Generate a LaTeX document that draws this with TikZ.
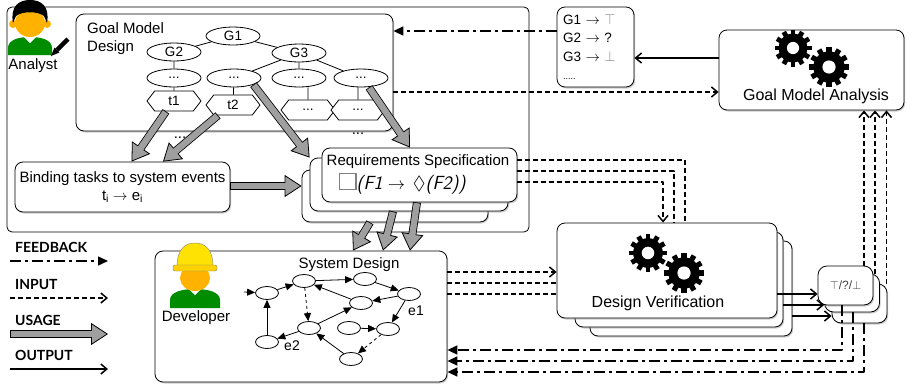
\documentclass[tikz,border=0pt]{standalone}
\usepackage{fontspec}
\usepackage{amssymb}
\setmainfont{Liberation Sans}
\newfontfamily\legendfont{Lato}
\usetikzlibrary{arrows.meta,shapes.geometric,shapes.symbols,shadows}

\newcommand{\gearwheel}[3]{%
  \begin{scope}[shift={(#1,#2)}]
    \fill (0,0) circle[radius=0.78*#3];
    \foreach \a in {0,30,...,330}
      \fill[rotate=\a] (-0.13*#3,0) rectangle (0.13*#3,#3);
    \fill[white] (0,0) circle[radius=0.33*#3];
  \end{scope}}

\begin{document}
\begin{tikzpicture}[x=1pt, y=-1pt, line join=round,
  box/.style={draw, fill=white, line width=0.8pt, rounded corners=8pt, inner sep=0pt},
  sbox/.style={box, drop shadow={shadow xshift=1.2pt, shadow yshift=-1.5pt, opacity=0.4}},
  txt/.style={font=\fontsize{15}{18}\selectfont},
  goal/.style={draw, fill=white, ellipse, line width=0.8pt, minimum width=54pt,
    minimum height=18pt, inner sep=0pt, font=\fontsize{13.5}{14}\selectfont},
  task/.style={draw, fill=white, signal, signal to=east and west, signal pointer angle=105,
    line width=0.8pt, minimum width=54pt, minimum height=20pt, inner sep=0pt,
    font=\fontsize{13.5}{14}\selectfont},
  ev/.style={draw, ellipse, line width=0.8pt, minimum width=23pt, minimum height=13pt, inner sep=0pt},
  link/.style={line width=0.8pt, -{Triangle[length=8pt,width=7pt]}},
  feedback/.style={line width=1.5pt, dash pattern=on 11pt off 4pt on 3pt off 4pt,
    -{Triangle[length=10pt,width=9pt]}},
  input/.style={line width=1.5pt, dash pattern=on 5pt off 3pt, -{Straight Barb[length=6pt,width=10pt]}},
  output/.style={line width=1.5pt, -{Straight Barb[length=6pt,width=10pt]}},
  usage/.style={line width=8pt, -{Triangle[length=17pt,width=22pt,fill=gray!75,line width=0.8pt]},
    postaction={draw=gray!75, line width=6.4pt, -, shorten >=15.5pt, shorten <=0.8pt}},
  legend/.style={font=\legendfont\bfseries\fontsize{14}{14}\selectfont, anchor=west, inner sep=0pt}]
\useasboundingbox (0,0) rectangle (913,386);

% analyst side
\node[box, rounded corners=5pt, minimum width=522pt, minimum height=225pt] (ana) at (268,119.5) {};
\node[sbox, minimum width=317pt, minimum height=117pt] (gmd) at (234.5,72.5) {};
\node[txt, align=left, anchor=north west, inner sep=0pt] (gmdt) at (87,22) {Goal Model\\Design};

\node[goal] (g1) at (233,36) {G1};
\node[goal] (g2) at (174,52) {G2};
\node[goal] (g3) at (299,53) {G3};
\node[goal] (g21) at (174,78) {...};
\node[goal] (g31) at (234,78) {...};
\node[goal] (g32) at (299,78) {...};
\node[goal] (g33) at (361,78) {...};
\node[task] (t1) at (174,101) {t1};
\node[task] (t2) at (233,105) {t2};
\node[task] (t3) at (308,110) {...};
\node[task] (t4) at (358,110) {...};
\draw[line width=0.8pt] (g1) -- (g2) (g1) -- (g3) (g2) -- (g21) (g3) -- (g31) (g3) -- (g32)
  (g3) -- (g33) (g21) -- (t1) (g31) -- (t2) (t3) -- (t3 |- g32.south) (t4) -- (t4 |- g33.south);
\node[txt] (more1) at (358,134) {...};
\node[txt] (more2) at (180,138) {...};

\node[sbox, txt, align=center, minimum width=215pt, minimum height=50pt] (bind) at (122.5,187)
  {Binding tasks to system events\\t\textsubscript{i} $\rightarrow$ e\textsubscript{i}};

\node[sbox, minimum width=186pt, minimum height=52pt] (rs3) at (395,196) {};
\node[sbox, minimum width=198pt, minimum height=53pt] (rs2) at (409,184.5) {};
\node[sbox, minimum width=195pt, minimum height=54pt] (rs1) at (419.5,175) {};
\node[txt, anchor=base] (rst) at (418,165) {Requirements Specification};
\node[anchor=base west, inner sep=0pt] (ltl) at (339,189)
  {{\color{gray}\fboxsep=0pt\fboxrule=1.2pt\fbox{\rule{0pt}{15pt}\rule{15pt}{0pt}}}%
   \fontsize{19}{20}\selectfont{\sffamily\itshape(F1}\;$\rightarrow\,\Diamond${\sffamily\itshape(F2))}};

% analysis results
\node[sbox, align=left, text width=65pt, inner xsep=6pt, minimum height=80pt,
  font=\fontsize{13.5}{18.5}\selectfont] (res) at (595.5,47)
  {G1 $\rightarrow$ \textcolor{gray}{$\top$}\\G2 $\rightarrow$ ?\\G3 $\rightarrow$ \textcolor{gray}{$\bot$}\\{\fontsize{9}{9}\selectfont .....}};
\node[sbox, minimum width=185pt, minimum height=80pt] (gma) at (811.5,70) {};
\gearwheel{793}{48}{18.5}
\gearwheel{829}{67}{20}
\node[txt, anchor=base, font=\fontsize{16}{18}\selectfont] (gmat) at (816,100) {Goal Model Analysis};

% verification
\node[sbox, minimum width=202pt, minimum height=95pt] (dv3) at (691,288.5) {};
\node[sbox, minimum width=208pt, minimum height=95pt] (dv2) at (679,279.5) {};
\node[sbox, minimum width=220pt, minimum height=95pt] (dv1) at (667,270.5) {};
\gearwheel{648}{253}{19}
\gearwheel{684}{273}{20}
\node[txt, anchor=base, font=\fontsize{16}{18}\selectfont] (dvt) at (658,307) {Design Verification};

\node[sbox, rounded corners=9pt, minimum width=55pt, minimum height=39pt] (tv3) at (859.5,303.5) {};
\node[sbox, rounded corners=9pt, minimum width=55pt, minimum height=38pt] (tv2) at (852,293) {};
\node[sbox, rounded corners=9pt, minimum width=55pt, minimum height=39pt,
  font=\fontsize{12}{12}\selectfont, text=black!75] (tv1) at (845.5,285.5) {$\top$/?/$\bot$};

% developer side
\node[sbox, minimum width=292pt, minimum height=131pt] (sd) at (301,316.5) {};
\node[txt, anchor=base] (sdt) at (349,268) {System Design};
\node[ev] (n1) at (267,293) {};
\node[ev] (n2) at (304,281) {};
\node[ev] (n3) at (365,279) {};
\node[ev] (n4) at (409,294) {};
\node[ev] (n5) at (361,303) {};
\node[ev] (n6) at (309,328) {};
\node[ev] (n7) at (349,328) {};
\node[ev] (n8) at (388,329) {};
\node[ev] (n9) at (267,342) {};
\node[ev] (n10) at (351,359) {};
\coordinate (n0) at (244,292);
\draw[link] (n0) -- (n1);
\draw[link] (n1) -- (n2);
\draw[link] (n2) -- (n3);
\draw[link] (n3) -- (n4);
\draw[link] (n4) -- (n5);
\draw[link] (n5) -- (n2);
\draw[link, dashed] (n2) -- (n6);
\draw[link] (n6) -- (n5);
\draw[link] (n6) -- (n9);
\draw[link] (n9) -- (n1);
\draw[link] (n4) -- (n8);
\draw[link] (n7) -- (n8);
\draw[link, dashed] (n8) -- (n10);
\draw[link] (n10) -- (n6);
\node[txt, font=\fontsize{14}{14}\selectfont] (e1) at (416,311) {e1};
\node[txt, font=\fontsize{14}{14}\selectfont] (e2) at (292,346) {e2};

% people
\fill[green!55!black] (8,55) -- (8,48) .. controls (8,40) and (18,37) .. (30,37)
  .. controls (42,37) and (52,40) .. (52,48) -- (52,55) -- cycle;
\fill[white] (24,37) -- (30,43) -- (36,37) -- cycle;
\fill[orange!60!yellow] (13,24) circle[radius=4] (47,24) circle[radius=4];
\fill[orange!60!yellow] (30,23) ellipse[x radius=15, y radius=14];
\fill[black] (13,23) .. controls (10,6) and (19,0) .. (30,0) .. controls (41,0) and (50,6) .. (47,23)
  -- (44,16) .. controls (38,11) and (22,11) .. (16,16) -- cycle;
\draw[line width=4.5pt] (68,39) -- (57,50);
\fill (54.5,47.5) -- (59.5,52.5) -- (51,56) -- cycle;
\node[txt, anchor=base] (anat) at (33,69) {Analyst};

\fill[green!55!black] (170,308) -- (170,300) .. controls (170,292) and (182,289) .. (195,289)
  .. controls (208,289) and (220,292) .. (220,300) -- (220,308) -- cycle;
\fill[white] (189,289) -- (195,295) -- (201,289) -- cycle;
\fill[orange!60!yellow] (195,278) ellipse[x radius=15, y radius=13];
\fill[yellow!85!orange, draw=black!50, line width=0.4pt] (177,267) .. controls (177,249) and (185,243) .. (195,243)
  .. controls (205,243) and (213,249) .. (213,267) -- cycle;
\fill[yellow!70!orange, draw=black!50, line width=0.4pt, rounded corners=2pt] (173,265) rectangle (217,271);
\node[txt, anchor=base] (devt) at (196,321) {Developer};

% legend
\foreach \kind/\word/\y in {feedback/FEEDBACK/247, input/INPUT/284, usage/USAGE/320, output/OUTPUT/355} {
  \node[legend] (\kind t) at (15,\y) {\word};
  \coordinate (\kind0) at (10,\y+14);
  \coordinate (\kind1) at (108,\y+14);
  \draw[\kind] (\kind0) -- (\kind1);
}

% connectors
\draw[feedback] ([yshift=16pt]res.west) coordinate (fb0) -- (fb0 -| gmd.east);
\draw[output] ([yshift=12pt]gma.west) coordinate (ot0) -- (ot0 -| res.east);
\draw[input] ([yshift=-19.5pt]gmd.east) coordinate (in0) -- (in0 -| gma.west);

\draw[input, -] ([yshift=15pt]rs1.east) -| ([xshift=18pt]dv1.north);
\draw[input, -] ([yshift=4pt]rs1.east) -| ([xshift=7pt]dv1.north);
\draw[input] ([yshift=-7pt]rs1.east) -| ([xshift=-4pt]dv1.north);

\draw[input] ([yshift=44.5pt]sd.east) coordinate (in1) -- (in1 -| dv1.west);
\draw[input, -] ([yshift=33.5pt]sd.east) coordinate (in2) -- (in2 -| dv1.west);
\draw[input, -] ([yshift=22.5pt]sd.east) coordinate (in3) -- (in3 -| dv1.west);

\draw[output] ([yshift=-23.5pt]dv1.east) coordinate (ou1) -- (ou1 -| tv1.west);
\draw[output] ([yshift=-25.5pt]dv2.east) coordinate (ou2) -- (ou2 -| tv2.west);
\draw[output] ([yshift=-27.5pt]dv3.east) coordinate (ou3) -- (ou3 -| tv3.west);

\draw[input] ([xshift=18.5pt]tv1.north) coordinate (up1) -- (up1 |- gma.south);
\draw[input] ([xshift=23pt]tv2.north) coordinate (up2) -- (up2 |- gma.south);
\draw[input] ([xshift=27pt]tv3.north) coordinate (up3) -- (up3 |- gma.south);

\draw[feedback] ([xshift=-3.5pt]tv1.south) |- ([yshift=-33.5pt]sd.east);
\draw[feedback] ([xshift=1pt]tv2.south) |- ([yshift=-44.5pt]sd.east);
\draw[feedback] ([xshift=4.5pt]tv3.south) |- ([yshift=-55.5pt]sd.east);

\draw[usage] ([xshift=-8pt]t1.south) -- ([xshift=9pt]bind.north);
\draw[usage] ([xshift=-15pt]t2.south) -- ([xshift=40.5pt]bind.north);
\draw[usage] (g31.south east) -- (rs2.north west);
\draw[usage] ([xshift=8pt]g33.south) -- ([xshift=-9.5pt]rs1.north);
\draw[usage] ([yshift=1pt]bind.east) coordinate (us0) -- (us0 -| rs3.west);
\draw[usage] ([xshift=-25pt]rs3.south) -- ([xshift=52pt]sd.north);
\draw[usage] ([xshift=-16pt]rs2.south) -- ([xshift=82pt]sd.north);
\draw[usage] ([xshift=-2.5pt]rs1.south) -- ([xshift=109pt]sd.north);
\end{tikzpicture}
\end{document}
